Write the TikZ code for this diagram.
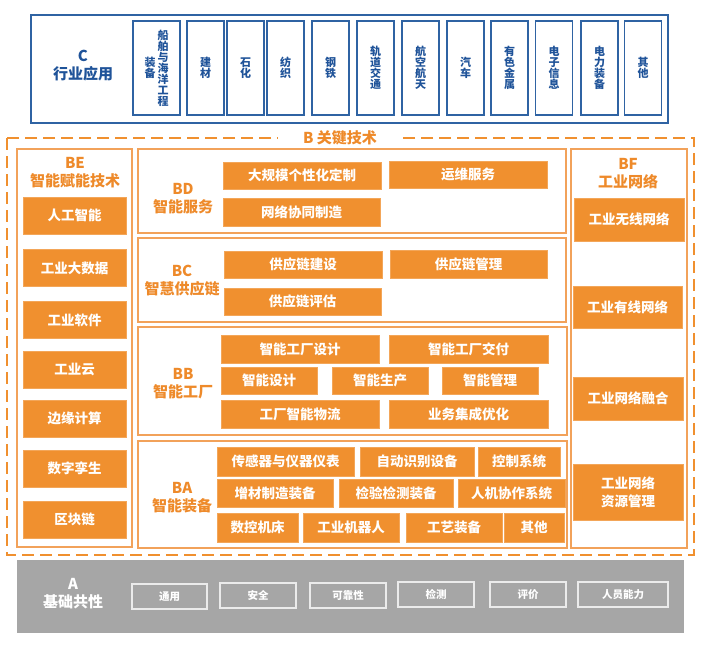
\documentclass[tikz,border=0pt]{standalone}
\usepackage{fontspec}
\setmainfont{Noto Sans CJK SC}
\definecolor{cblue}{HTML}{2F63A3}
\definecolor{ctext}{HTML}{1F5399}
\definecolor{orf}{HTML}{F0902F}
\definecolor{orl}{HTML}{F2A25A}
\definecolor{ort}{HTML}{EE8A2A}
\definecolor{agray}{HTML}{A6A6A6}
\tikzset{
  cont/.style={draw=orl,line width=1.3pt,inner sep=0pt},
  obox/.style={fill=orf,draw=orf!80!white,line width=0.6pt,text=white,inner sep=0pt,
     font=\fontsize{13.5}{16}\selectfont\bfseries,align=center},
  glab/.style={text=ort,font=\fontsize{15}{18}\selectfont\bfseries,align=center,inner sep=0pt},
  vbox/.style={draw=cblue,line width=1.3pt,inner sep=0pt,minimum height=94pt,minimum width=37pt},
  vtxt/.style={text=ctext,font=\fontsize{11}{11}\selectfont\bfseries,align=center,inner sep=0pt},
  abox/.style={draw=white!92!black,line width=1.3pt,text=white,inner sep=0pt,
     minimum height=25pt,minimum width=76pt,font=\fontsize{10.5}{12}\selectfont\bfseries},
}
\begin{document}
\begin{tikzpicture}[x=1pt,y=-1pt]
\useasboundingbox[fill=white] (0,0) rectangle (708,645);
% ---------- C ----------
\node[draw=cblue,line width=1.5pt,minimum width=637pt,minimum height=108pt,inner sep=0pt] (C) at (349.5,69) {};
\node[text=ctext,font=\fontsize{15}{18}\selectfont\bfseries,align=center,inner sep=0pt] (Clab) at (83,66) {C\\行业应用};
\node[vbox,minimum width=47pt] (c1) at (156.5,68) {};
\node[vtxt] (c1a) at (163,68) {船\\舶\\与\\海\\洋\\工\\程};
\node[vtxt] (c1b) at (150,68) {装\\备};
\node[vbox] (c2) at (205.5,68) {}; \node[vtxt] at (c2) {建\\材};
\node[vbox] (c3) at (245.5,68) {}; \node[vtxt] at (c3) {石\\化};
\node[vbox] (c4) at (285.5,68) {}; \node[vtxt] at (c4) {纺\\织};
\node[vbox] (c5) at (330.5,68) {}; \node[vtxt] at (c5) {钢\\铁};
\node[vbox] (c6) at (375.5,68) {}; \node[vtxt] at (c6) {轨\\道\\交\\通};
\node[vbox] (c7) at (420.5,68) {}; \node[vtxt] at (c7) {航\\空\\航\\天};
\node[vbox] (c8) at (465.5,68) {}; \node[vtxt] at (c8) {汽\\车};
\node[vbox] (c9) at (509.5,68) {}; \node[vtxt] at (c9) {有\\色\\金\\属};
\node[vbox] (c10) at (554,68) {}; \node[vtxt] at (c10) {电\\子\\信\\息};
\node[vbox] (c11) at (599.5,68) {}; \node[vtxt] at (c11) {电\\力\\装\\备};
\node[vbox] (c12) at (643,68) {}; \node[vtxt] at (c12) {其\\他};
% ---------- B ----------
\draw[draw=orf,line width=1.6pt,dash pattern=on 12pt off 6pt] (7,138) rectangle (694,555);
\node[fill=white,text=ort,font=\fontsize{15}{18}\selectfont\bfseries,inner ysep=2pt,inner xsep=25pt] (Blab) at (340,138) {B 关键技术};
% BE
\node[cont,minimum width=115pt,minimum height=398pt] (BE) at (74.5,348) {};
\node[glab] (BElab) at (75,173) {BE\\智能赋能技术};
\foreach \t/\yy [count=\i] in {人工智能/215.5,工业大数据/268,工业软件/320,工业云/369.5,边缘计算/418.5,数字孪生/468.5,区块链/519.5}
  \node[obox,minimum width=103pt,minimum height=37pt] (be\i) at (74.5,\yy) {\t};
% BD
\node[cont,minimum width=428pt,minimum height=84pt] (BD) at (352,191) {};
\node[glab] (BDlab) at (183,198.5) {BD\\智能服务};
\node[obox,minimum width=158pt,minimum height=27pt] (bd1) at (302,175.5) {大规模个性化定制};
\node[obox,minimum width=158pt,minimum height=27pt] (bd2) at (468,174.5) {运维服务};
\node[obox,minimum width=157pt,minimum height=28pt] (bd3) at (301.5,212) {网络协同制造};
% BC
\node[cont,minimum width=428pt,minimum height=84pt] (BC) at (352,280) {};
\node[glab] (BClab) at (182,281) {BC\\智慧供应链};
\node[obox,minimum width=158pt,minimum height=27pt] (bc1) at (303,264.5) {供应链建设};
\node[obox,minimum width=157pt,minimum height=28pt] (bc2) at (468.5,264) {供应链管理};
\node[obox,minimum width=157pt,minimum height=27pt] (bc3) at (302.5,301.5) {供应链评估};
% BB
\node[cont,minimum width=429pt,minimum height=108pt] (BB) at (352.5,381) {};
\node[glab] (BBlab) at (183,384) {BB\\智能工厂};
\node[obox,minimum width=158pt,minimum height=28pt] (bb1) at (300,349) {智能工厂设计};
\node[obox,minimum width=159pt,minimum height=28pt] (bb2) at (468.5,349) {智能工厂交付};
\node[obox,minimum width=96pt,minimum height=27pt] (bb3) at (269,380.5) {智能设计};
\node[obox,minimum width=96pt,minimum height=27pt] (bb4) at (380,380.5) {智能生产};
\node[obox,minimum width=96pt,minimum height=27pt] (bb5) at (490,380.5) {智能管理};
\node[obox,minimum width=158pt,minimum height=28pt] (bb6) at (300,414) {工厂智能物流};
\node[obox,minimum width=159pt,minimum height=28pt] (bb7) at (468.5,414) {业务集成优化};
% BA
\node[cont,minimum width=429pt,minimum height=107pt] (BA) at (352.5,494.5) {};
\node[glab] (BAlab) at (182,498) {BA\\智能装备};
\node[obox,minimum width=137pt,minimum height=29pt] (ba1) at (285.5,461.5) {传感器与仪器仪表};
\node[obox,minimum width=114pt,minimum height=29pt] (ba2) at (417,461.5) {自动识别设备};
\node[obox,minimum width=82pt,minimum height=29pt] (ba3) at (519,461.5) {控制系统};
\node[obox,minimum width=116pt,minimum height=28pt] (ba4) at (275,493) {增材制造装备};
\node[obox,minimum width=114pt,minimum height=28pt] (ba5) at (396,493) {检验检测装备};
\node[obox,minimum width=107pt,minimum height=28pt] (ba6) at (511.5,493) {人机协作系统};
\node[obox,minimum width=81pt,minimum height=29pt] (ba7) at (257.5,527.5) {数控机床};
\node[obox,minimum width=96pt,minimum height=29pt] (ba8) at (351,527.5) {工业机器人};
\node[obox,minimum width=96pt,minimum height=29pt] (ba9) at (454,527.5) {工艺装备};
\node[obox,minimum width=60pt,minimum height=29pt] (ba10) at (534,527.5) {其他};
% BF
\node[cont,minimum width=116pt,minimum height=399pt] (BF) at (629,348.5) {};
\node[glab] (BFlab) at (628,174) {BF\\工业网络};
\node[obox,minimum width=110pt,minimum height=43pt] (bf1) at (629,219.5) {工业无线网络};
\node[obox,minimum width=109pt,minimum height=42pt] (bf2) at (627.5,307) {工业有线网络};
\node[obox,minimum width=110pt,minimum height=43pt] (bf3) at (628,398.5) {工业网络融合};
\node[obox,minimum width=110pt,minimum height=56pt,font=\fontsize{13.5}{18}\selectfont\bfseries] (bf4) at (628,492) {工业网络\\资源管理};
% ---------- A ----------
\node[fill=agray,minimum width=667pt,minimum height=73pt,inner sep=0pt] (A) at (350.5,596.5) {};
\node[text=white,font=\fontsize{15}{18}\selectfont\bfseries,align=center,inner sep=0pt] (Alab) at (73,594) {A\\基础共性};
\node[abox,minimum width=75pt] (a1) at (169.5,596.5) {通用};
\node[abox] (a2) at (258,595.5) {安全};
\node[abox] (a3) at (348,595.5) {可靠性};
\node[abox] (a4) at (436,594.5) {检测};
\node[abox] (a5) at (528,594.5) {评价};
\node[abox,minimum width=90pt] (a6) at (623,594.5) {人员能力};
\end{tikzpicture}
\end{document}
